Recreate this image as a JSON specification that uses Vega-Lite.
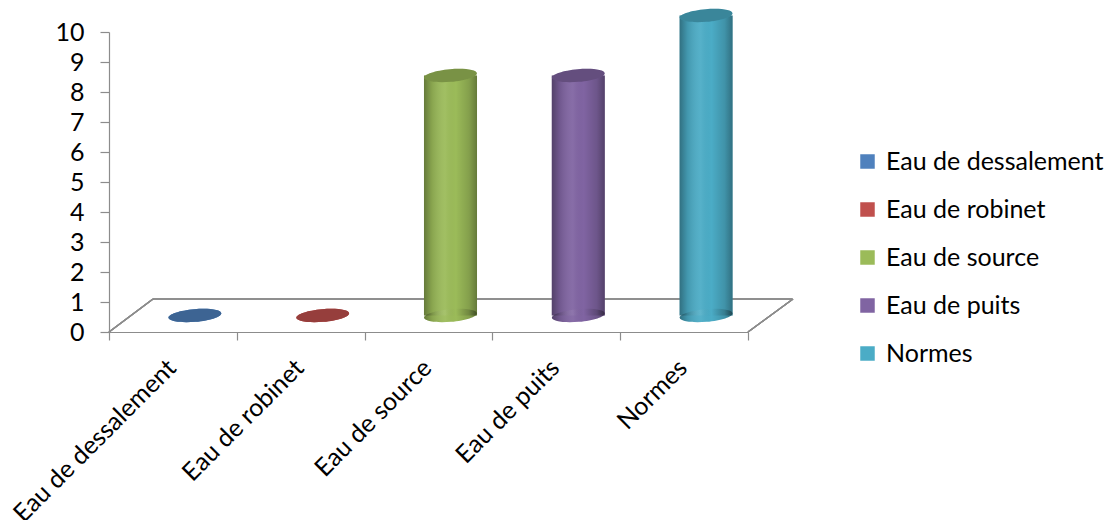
{
  "$schema": "https://vega.github.io/schema/vega-lite/v6.json",
  "width": 639,
  "height": 300,
  "autosize": {"type": "none"},
  "padding": {"left": 109, "top": 32, "right": 361, "bottom": 188},
  "background": "white",
  "config": {
    "view": {"stroke": null},
    "font": "Lato",
    "axis": {
      "domainColor": "#8c8c8c",
      "tickColor": "#8c8c8c",
      "domainWidth": 1.2,
      "tickWidth": 1.2,
      "labelColor": "#000000",
      "labelFont": "Lato",
      "labelFontSize": 25,
      "labelLimit": 0,
      "grid": false,
      "title": null
    }
  },
  "data": {
    "values": [
      {"source": "Eau de dessalement", "value": 0},
      {"source": "Eau de robinet", "value": 0},
      {"source": "Eau de source", "value": 8},
      {"source": "Eau de puits", "value": 8},
      {"source": "Normes", "value": 10}
    ]
  },
  "encoding": {
    "x": {
      "field": "source",
      "type": "nominal",
      "sort": null,
      "scale": {
        "domain": ["Eau de dessalement", "Eau de robinet", "Eau de source", "Eau de puits", "Normes"],
        "paddingInner": 0,
        "paddingOuter": 0
      },
      "axis": {
        "tickBand": "extent",
        "tickSize": 8,
        "labelAngle": -45,
        "labelAlign": "right",
        "labelBaseline": "top",
        "labelPadding": 15,
        "labelOffset": -10
      }
    },
    "y": {
      "field": "value",
      "type": "quantitative",
      "scale": {"domain": [0, 10], "nice": false},
      "axis": {
        "values": [0, 1, 2, 3, 4, 5, 6, 7, 8, 9, 10],
        "tickSize": 9,
        "labelPadding": 16,
        "labelOverlap": false,
        "labelSeparation": -30
      }
    }
  },
  "layer": [
    {
      "mark": {"type": "rule", "color": "#8c8c8c", "strokeWidth": 1.2, "xOffset": 44, "x2Offset": 44, "yOffset": -33},
      "encoding": {
        "x": {"datum": "Eau de dessalement", "bandPosition": 0},
        "x2": {"datum": "Normes", "bandPosition": 1},
        "y": {"datum": 0, "type": "quantitative"}
      }
    },
    {
      "mark": {"type": "rule", "color": "#8c8c8c", "strokeWidth": 1.2, "x2Offset": 44, "y2Offset": -33},
      "encoding": {
        "x": {"datum": "Eau de dessalement", "bandPosition": 0},
        "x2": {"datum": "Eau de dessalement", "bandPosition": 0},
        "y": {"datum": 0, "type": "quantitative"},
        "y2": {"datum": 0}
      }
    },
    {
      "mark": {"type": "rule", "color": "#8c8c8c", "strokeWidth": 1.2, "x2Offset": 45, "y2Offset": -33},
      "encoding": {
        "x": {"datum": "Normes", "bandPosition": 1},
        "x2": {"datum": "Normes", "bandPosition": 1},
        "y": {"datum": 0, "type": "quantitative"},
        "y2": {"datum": 0}
      }
    },
    {
      "mark": {"type": "point", "shape": "M-1,0A1,0.24,0,1,1,1,0A1,0.24,0,1,1,-1,0Z", "size": 2809, "filled": true, "opacity": 1, "strokeWidth": 0, "angle": -5, "xOffset": 22, "yOffset": -16.5},
      "encoding": {
        "y": {"datum": 0, "type": "quantitative"},
        "color": {"field": "source", "type": "nominal", "sort": null}
      }
    },
    {
      "mark": {"type": "bar", "width": {"band": 0.415}, "xOffset": 22, "yOffset": -16.5, "y2Offset": -16.5},
      "encoding": {
        "color": {
          "field": "source",
          "type": "nominal",
          "sort": null,
          "scale": {
            "domain": ["Eau de dessalement", "Eau de robinet", "Eau de source", "Eau de puits", "Normes"],
            "range": ["#4f81bd", "#c0504d", "#9bbb59", "#8064a2", "#4bacc6"]
          },
          "legend": {
            "title": null,
            "orient": "none",
            "legendX": 746,
            "legendY": 117,
            "symbolType": "square",
            "symbolSize": 210,
            "symbolStrokeWidth": 0,
            "symbolOpacity": 1,
            "labelFont": "Lato",
            "labelFontSize": 25,
            "labelLimit": 0,
            "labelColor": "#000000",
            "labelOffset": 6,
            "rowPadding": 22
          }
        }
      }
    },
    {
      "mark": {
        "type": "point", "shape": "M-1,0A1,0.24,0,1,1,1,0A1,0.24,0,1,1,-1,0Z", "size": 2809, "filled": true, "opacity": 1, "strokeWidth": 0, "angle": -5, "xOffset": 22, "yOffset": -16.5,
        "fill": {"gradient": "linear", "x1": 0, "y1": 0, "x2": 1, "y2": 0, "stops": [
          {"offset": 0, "color": "rgba(0,0,0,0.35)"},
          {"offset": 0.15, "color": "rgba(0,0,0,0.12)"},
          {"offset": 0.4, "color": "rgba(255,255,255,0.06)"},
          {"offset": 0.6, "color": "rgba(0,0,0,0)"},
          {"offset": 0.85, "color": "rgba(0,0,0,0.15)"},
          {"offset": 1, "color": "rgba(0,0,0,0.35)"}
        ]}
      },
      "transform": [{"filter": "datum.value > 0"}],
      "encoding": {"y": {"datum": 0, "type": "quantitative"}}
    },
    {
      "mark": {
        "type": "bar", "width": {"band": 0.415}, "xOffset": 22, "yOffset": -16.5, "y2Offset": -16.5,
        "fill": {"gradient": "linear", "x1": 0, "y1": 0, "x2": 1, "y2": 0, "stops": [
          {"offset": 0, "color": "rgba(0,0,0,0.35)"},
          {"offset": 0.15, "color": "rgba(0,0,0,0.12)"},
          {"offset": 0.4, "color": "rgba(255,255,255,0.06)"},
          {"offset": 0.6, "color": "rgba(0,0,0,0)"},
          {"offset": 0.85, "color": "rgba(0,0,0,0.15)"},
          {"offset": 1, "color": "rgba(0,0,0,0.35)"}
        ]}
      }
    },
    {
      "mark": {"type": "point", "shape": "M-1,0A1,0.24,0,1,1,1,0A1,0.24,0,1,1,-1,0Z", "size": 2809, "filled": true, "opacity": 1, "strokeWidth": 0, "angle": -5, "xOffset": 22, "yOffset": -16.5},
      "encoding": {
        "color": {"field": "source", "type": "nominal", "sort": null}
      }
    },
    {
      "mark": {"type": "point", "shape": "M-1,0A1,0.24,0,1,1,1,0A1,0.24,0,1,1,-1,0Z", "size": 2809, "filled": true, "fill": "#000000", "opacity": 0.22, "strokeWidth": 0, "angle": -5, "xOffset": 22, "yOffset": -16.5}
    }
  ]
}
